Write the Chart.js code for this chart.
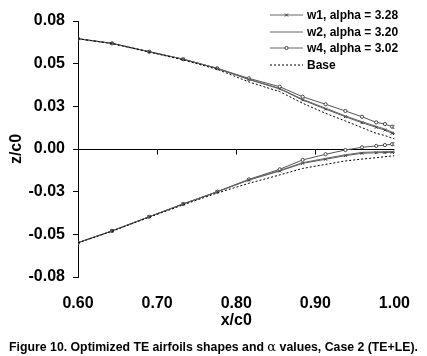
<!DOCTYPE html>
<html>
<head>
<meta charset="utf-8">
<script src="https://cdn.jsdelivr.net/npm/chart.js@4/dist/chart.umd.min.js"></script>
<style>
  html, body { margin: 0; padding: 0; background: #fff; }
  #wrap { position: relative; width: 427px; height: 356px; font-family: "Liberation Sans", Arial, sans-serif; }
  #chart { position: absolute; left: 0; top: 0; }
  .lg { position: absolute; left: 270px; height: 16px; display: flex; align-items: center; font-weight: bold; font-size: 12px; color: #000; white-space: nowrap; }
  .lg svg { margin-right: 4px; }
  #caption { position: absolute; left: 0; width: 427px; top: 339px; line-height: 15px; text-align: center; font-weight: bold; font-size: 12.3px; color: #000; white-space: nowrap; }
</style>
</head>
<body>
<div id="wrap">
  <canvas id="chart" width="427" height="356"></canvas>
  <div class="lg" style="top:7px"><svg width="33" height="8"><line x1="0" y1="4" x2="33" y2="4" stroke="#666" stroke-width="1"/><path d="M15 2.5 L18 5.5 M18 2.5 L15 5.5" stroke="#333" stroke-width="1"/></svg><span>w1, alpha = 3.28</span></div>
  <div class="lg" style="top:23.7px"><svg width="33" height="8"><line x1="0" y1="4" x2="33" y2="4" stroke="#666" stroke-width="1"/></svg><span>w2, alpha = 3.20</span></div>
  <div class="lg" style="top:40.3px"><svg width="33" height="8"><line x1="0" y1="4" x2="33" y2="4" stroke="#666" stroke-width="1"/><circle cx="16.5" cy="4" r="1.6" fill="#fff" stroke="#444" stroke-width="1"/></svg><span>w4, alpha = 3.02</span></div>
  <div class="lg" style="top:57px"><svg width="33" height="8"><line x1="0" y1="4" x2="33" y2="4" stroke="#000" stroke-width="1" stroke-dasharray="2,2"/></svg><span>Base</span></div>
  <div id="caption">Figure 10. Optimized TE airfoils shapes and <span style="font-family:'DejaVu Serif',serif;font-weight:normal;font-size:13px">α</span> values, Case 2 (TE+LE).</div>
</div>
<script>
// ---- data ----
const xs = [0.600, 0.643, 0.690, 0.733, 0.776, 0.816, 0.855, 0.884, 0.913, 0.938, 0.959, 0.977, 0.988, 0.997, 1.000];

const w1Upper = [0.0646, 0.0619, 0.0570, 0.0526, 0.0472, 0.0407, 0.0352, 0.0287, 0.0234, 0.0189, 0.0154, 0.0127, 0.0111, 0.0092, 0.0090];
const w2Upper = [0.0646, 0.0619, 0.0570, 0.0526, 0.0472, 0.0409, 0.0355, 0.0291, 0.0239, 0.0194, 0.0160, 0.0133, 0.0117, 0.0099, 0.0097];
const w4Upper = [0.0646, 0.0619, 0.0570, 0.0526, 0.0473, 0.0414, 0.0365, 0.0306, 0.0262, 0.0223, 0.0189, 0.0156, 0.0146, 0.0131, 0.0129];
const baseUpper = [0.0646, 0.0618, 0.0568, 0.0522, 0.0467, 0.0393, 0.0336, 0.0268, 0.0209, 0.0164, 0.0125, 0.0092, 0.0079, 0.0063, 0.0060];

const w1Lower = [-0.0549, -0.0480, -0.0397, -0.0322, -0.0251, -0.0182, -0.0129, -0.0084, -0.0060, -0.0039, -0.0025, -0.0022, -0.0021, -0.0019, -0.0019];
const w2Lower = [-0.0549, -0.0480, -0.0397, -0.0322, -0.0251, -0.0180, -0.0126, -0.0080, -0.0055, -0.0034, -0.0020, -0.0017, -0.0016, -0.0015, -0.0015];
const w4Lower = [-0.0549, -0.0480, -0.0397, -0.0322, -0.0250, -0.0178, -0.0119, -0.0064, -0.0031, -0.0006, 0.0010, 0.0018, 0.0023, 0.0028, 0.0029];
const baseLower = [-0.0550, -0.0482, -0.0400, -0.0327, -0.0258, -0.0201, -0.0152, -0.0114, -0.0090, -0.0070, -0.0059, -0.0051, -0.0045, -0.0041, -0.0040];

const xTickValues = [0.6, 0.7, 0.8, 0.9, 1.0];
const xTickLabels = ['0.60', '0.70', '0.80', '0.90', '1.00'];
const yTickValues = [-0.075, -0.05, -0.025, 0, 0.025, 0.05, 0.075];
const yTickLabels = ['-0.08', '-0.05', '-0.03', '0.00', '0.03', '0.05', '0.08'];

// ---- build ----
const pts = arr => xs.map((x, i) => ({ x: x, y: arr[i] }));
const FONT = '"Liberation Sans", Arial, sans-serif';

function ds(data, style) {
  return Object.assign({
    data: pts(data), showLine: true, borderWidth: 1, pointRadius: 0,
    fill: false, tension: 0
  }, style);
}
const w1Style = { borderColor: '#555', pointStyle: 'crossRot', pointRadius: 2, pointBorderColor: '#333', pointBorderWidth: 1 };
const w2Style = { borderColor: '#666' };
const w4Style = { borderColor: '#555', pointStyle: 'circle', pointRadius: 1.6, pointBackgroundColor: '#fff', pointBorderColor: '#444', pointBorderWidth: 1 };
const baseStyle = { borderColor: '#000', borderDash: [2, 2] };

const zeroTicks = {
  id: 'zeroTicks',
  afterDraw(chart) {
    const { ctx, scales: { x, y } } = chart;
    const y0 = Math.round(y.getPixelForValue(0)) + 0.5;
    ctx.save();
    ctx.strokeStyle = '#000';
    ctx.lineWidth = 1;
    ctx.beginPath();
    xTickValues.forEach(v => {
      if (v > 0.6 && v < 1.0) {
        const px = Math.round(x.getPixelForValue(v)) + 0.5;
        ctx.moveTo(px, y0);
        ctx.lineTo(px, y0 + 5);
      }
    });
    ctx.stroke();
    ctx.restore();
  }
};

new Chart(document.getElementById('chart'), {
  type: 'scatter',
  data: {
    datasets: [
      ds(baseUpper, baseStyle), ds(baseLower, baseStyle),
      ds(w2Upper, w2Style), ds(w2Lower, w2Style),
      ds(w1Upper, w1Style), ds(w1Lower, w1Style),
      ds(w4Upper, w4Style), ds(w4Lower, w4Style)
    ]
  },
  options: {
    responsive: false,
    animation: false,
    devicePixelRatio: 1,
    layout: { padding: { top: 21, right: 27, left: 0, bottom: 0 } },
    plugins: { legend: { display: false }, tooltip: { enabled: false } },
    scales: {
      x: {
        type: 'linear', min: 0.6, max: 1.0,
        afterBuildTicks: s => { s.ticks = xTickValues.map(v => ({ value: v })); },
        afterFit: s => { s.height = 79; },
        ticks: {
          callback: (v, i) => xTickLabels[i],
          font: { family: FONT, weight: 'bold', size: 16 }, color: '#000',
          padding: 17, maxRotation: 0, autoSkip: false
        },
        grid: { display: false, drawTicks: false },
        border: { display: false },
        title: { display: true, text: 'x/c0', color: '#000', font: { family: FONT, weight: 'bold', size: 16 }, padding: { top: 0, bottom: 26 } }
      },
      y: {
        type: 'linear', min: -0.075, max: 0.075,
        afterBuildTicks: s => { s.ticks = yTickValues.map(v => ({ value: v })); },
        afterFit: s => { s.width = 78; },
        ticks: {
          callback: (v, i) => yTickLabels[i],
          font: { family: FONT, weight: 'bold', size: 16 }, color: '#000',
          padding: 8, autoSkip: false
        },
        grid: {
          drawOnChartArea: true,
          color: c => (c.tick && c.tick.value === 0) ? '#000' : 'rgba(0,0,0,0)',
          tickColor: '#000', tickLength: 5, lineWidth: 1
        },
        border: { display: true, color: '#000', width: 1 },
        title: { display: true, text: 'z/c0', color: '#000', font: { family: FONT, weight: 'bold', size: 16 }, padding: { top: 7, bottom: 0 } }
      }
    }
  },
  plugins: [zeroTicks]
});
</script>
</body>
</html>
